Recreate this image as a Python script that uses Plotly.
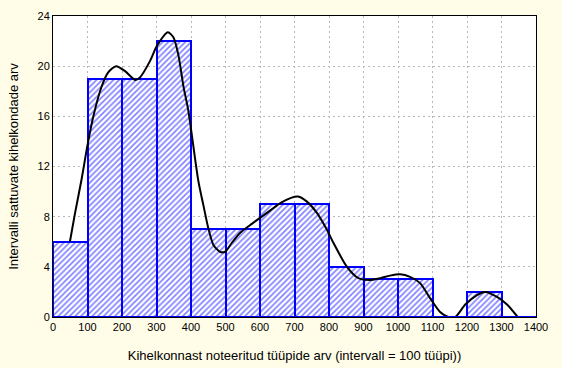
import plotly.graph_objects as go

bin_centers = [50, 150, 250, 350, 450, 550, 650, 750, 850, 950, 1050, 1150, 1250, 1350]
counts = [6, 19, 19, 22, 7, 7, 9, 9, 4, 3, 3, 0, 2, 0]

curve_x = [49, 64, 83, 100, 117, 140, 160, 183, 209, 238, 252, 281, 301, 333, 349, 364, 378, 392,
           421, 436, 450, 465, 484, 499, 518, 542, 570, 600, 630, 660, 690, 710, 736, 765, 794,
           813, 852, 885, 919, 948, 977, 1006, 1035, 1064, 1093, 1122, 1146, 1166, 1195, 1229,
           1253, 1287, 1316, 1347]
curve_y = [6.0, 8.3, 11.0, 13.7, 16.0, 18.3, 19.5, 20.0, 19.6, 18.9, 19.1, 20.4, 21.6, 22.7, 22.3,
           20.8, 18.4, 16.5, 10.9, 8.9, 7.1, 5.75, 5.2, 5.2, 5.9, 6.7, 7.3, 7.9, 8.5, 9.1, 9.5, 9.6,
           9.2, 8.3, 6.95, 5.9, 4.0, 3.1, 2.95, 3.1, 3.3, 3.4, 3.2, 2.7, 1.5, 0.4, 0.0, 0.0, 1.0,
           1.75, 2.0, 1.6, 1.0, 0.0]

x_ticks = list(range(0, 1401, 100))
y_ticks = list(range(0, 25, 4))

bg = "#fffde8"
font = "Liberation Sans, Arial, sans-serif"

fig = go.Figure()
fig.add_trace(go.Bar(
    x=bin_centers, y=counts, width=100,
    marker=dict(color="white",
                line=dict(color="#0000ff", width=2),
                pattern=dict(shape="/", fgcolor="#0000ff", bgcolor="white", size=4, solidity=0.4)),
    showlegend=False,
))
fig.add_trace(go.Scatter(
    x=curve_x, y=curve_y, mode="lines",
    line=dict(color="black", width=2, shape="spline", smoothing=0.7),
    showlegend=False,
))

# blue baseline formed by bar bottoms (including empty intervals)
fig.add_shape(type="line", xref="paper", yref="y", x0=0, x1=1, y0=0, y1=0,
              line=dict(color="#0000ff", width=2), layer="above")

fig.update_layout(
    width=562, height=368,
    margin=dict(l=53, r=26, t=16, b=51, autoexpand=False),
    paper_bgcolor=bg, plot_bgcolor="white",
    font=dict(family=font, size=11, color="black"),
    bargap=0,
)
fig.update_xaxes(
    range=[0, 1400], tickvals=x_ticks, ticktext=[str(v) for v in x_ticks],
    showgrid=True, gridcolor="#b8b8b8", griddash="2px,3px", gridwidth=1,
    showline=True, linecolor="black", linewidth=1, mirror=True,
    ticks="", zeroline=False, automargin=False,
    title=dict(text="Kihelkonnast noteeritud tüüpide arv (intervall = 100 tüüpi))",
               font=dict(size=13), standoff=18),
)
fig.update_yaxes(
    range=[0, 24], tickvals=y_ticks, ticktext=[str(v) for v in y_ticks],
    showgrid=True, gridcolor="#b8b8b8", griddash="2px,3px", gridwidth=1,
    showline=True, linecolor="black", linewidth=1, mirror=True,
    ticks="", zeroline=False, automargin=False,
    title=dict(text="Intervalli sattuvate kihelkondade arv", font=dict(size=13), standoff=15),
)

fig.write_html("out.html", config={"displayModeBar": False},
               post_script="document.body.style.margin='0';document.body.style.padding='0';"
                           "document.body.style.background='" + bg + "';")
